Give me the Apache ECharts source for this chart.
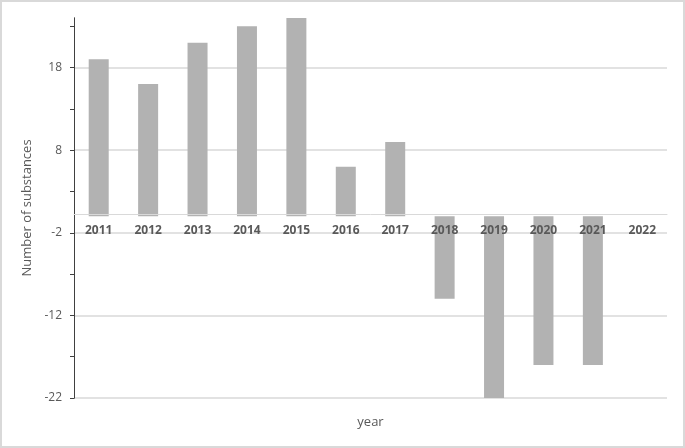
<!DOCTYPE html>
<html>
<head>
<meta charset="utf-8">
<script src="https://cdn.jsdelivr.net/npm/echarts@6/dist/echarts.min.js"></script>
<style>
    html, body { margin: 0; padding: 0; background: #fff; }
    #chart { width: 685px; height: 448px; box-sizing: border-box; border: 2px solid #d9d9d9; }
</style>
</head>
<body>
<div id="chart"></div>
<script>
    // 数据
    const years = ['2011', '2012', '2013', '2014', '2015', '2016', '2017', '2018', '2019', '2020', '2021', '2022'];
    const substances = [19, 16, 21, 23, 24, 6, 9, -10, -22, -18, -18, 0];
    const yTicks = [-22, -17, -12, -7, -2, 3, 8, 13, 18, 23];

    const yMin = -22, yMax = 24;
    const gridTop = 16, gridBottom = 48;
    const gridH = 448 - gridTop - gridBottom;
    // x轴放在 0 的位置
    const zeroOffset = -gridH * (0 - yMin) / (yMax - yMin);

    const chart = echarts.init(document.getElementById('chart'));

    const font = 'Open Sans';

    chart.setOption({
        animation: false,
        grid: {
            left: 72,
            right: 16,
            top: gridTop,
            bottom: gridBottom,
            containLabel: false,
            outerBoundsMode: 'none'
        },
        xAxis: {
            type: 'category',
            data: years,
            position: 'bottom',
            offset: zeroOffset,
            z: 5,
            name: 'year',
            nameLocation: 'middle',
            nameGap: 18 - zeroOffset,
            nameTextStyle: { color: '#595959', fontSize: 13, fontFamily: font },
            axisLine: { onZero: false, lineStyle: { color: '#d9d9d9', width: 1 } },
            axisTick: { show: false },
            axisLabel: {
                color: '#595959',
                fontWeight: 'bold',
                fontSize: 12,
                fontFamily: font,
                margin: 10
            }
        },
        yAxis: [
            {
                type: 'value',
                min: yMin,
                max: yMax,
                interval: 10,
                name: 'Number of substances',
                nameLocation: 'middle',
                nameGap: 32,
                nameTextStyle: { color: '#595959', fontSize: 13, fontFamily: font },
                axisLine: { show: true, lineStyle: { color: '#404040', width: 1 } },
                axisTick: { show: false },
                axisLabel: {
                    color: '#595959',
                    fontSize: 12,
                    fontFamily: font,
                    margin: 12,
                    showMaxLabel: false
                },
                splitLine: {
                    show: true,
                    showMaxLine: false,
                    lineStyle: { color: '#d9d9d9', width: 1.5 }
                }
            },
            {
                // 只画刻度
                type: 'value',
                position: 'left',
                min: yMin,
                max: yMax,
                interval: 5,
                axisLine: { show: true, onZero: false, lineStyle: { color: '#404040', width: 1 } },
                axisTick: {
                    show: true,
                    length: 4,
                    customValues: yTicks,
                    lineStyle: { color: '#404040' }
                },
                axisLabel: { show: false },
                splitLine: { show: false }
            }
        ],
        series: [
            {
                type: 'bar',
                data: substances,
                barWidth: 20,
                itemStyle: {
                    color: '#b2b2b2'
                }
            }
        ]
    });
</script>
</body>
</html>
